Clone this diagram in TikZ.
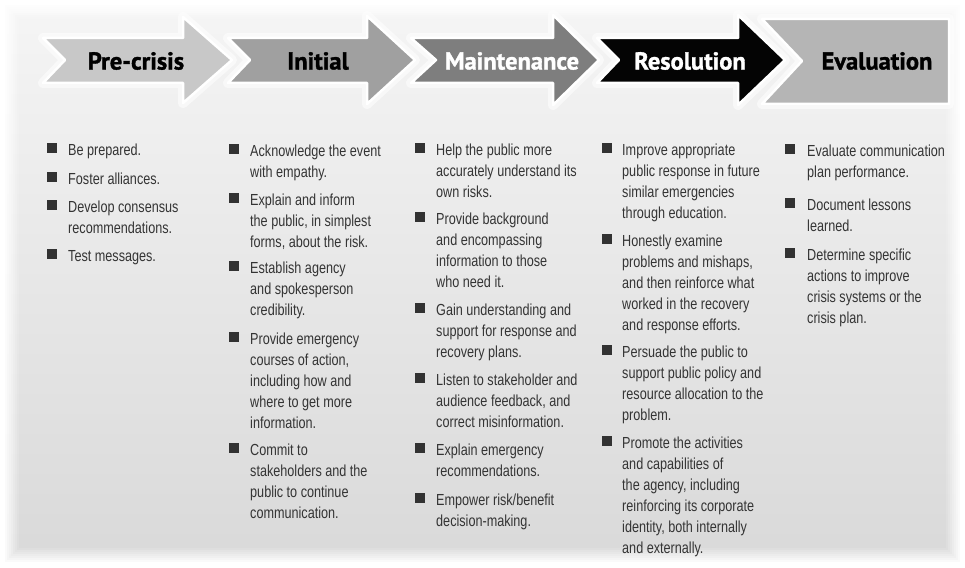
\documentclass[tikz,border=0pt]{standalone}
\usepackage{fontspec}
\setmainfont[FakeStretch=0.79]{Liberation Sans}
\newfontfamily\headfont{PT Sans}[BoldFeatures={FakeBold=1.3}]
\definecolor{txt}{RGB}{52,52,52}
\definecolor{bul}{RGB}{50,50,50}
\definecolor{bgtop}{RGB}{245,245,245}
\definecolor{bgbot}{RGB}{217,217,217}
\definecolor{cPre}{RGB}{200,200,200}
\definecolor{cIni}{RGB}{160,160,160}
\definecolor{cMai}{RGB}{126,126,126}
\definecolor{cRes}{RGB}{4,4,4}
\definecolor{cEva}{RGB}{181,181,181}
\tikzset{
  phase/.style={line join=round, draw=white, line width=2.5pt,
    preaction={draw=white, opacity=0.55, line width=10pt, line join=round}},
  head/.style={font=\headfont\bfseries\fontsize{24.5}{27}\selectfont, inner sep=0pt},
  itemtxt/.style={anchor=north west, inner sep=0pt, align=left, text=txt,
    font=\fontsize{16}{21}\selectfont},
  bulletbox/.style={rectangle, fill=bul, inner sep=0pt, minimum size=10pt, anchor=north west},
}
\newcommand{\crisisitem}[5]{%
  \node[bulletbox] (#1b) at (#2-0.5,#4-12.5) {};
  \node[itemtxt] (#1) at (#3,#4-14.7) {\strut #5};}
\begin{document}
\begin{tikzpicture}[x=1pt,y=-1pt]
\useasboundingbox (0,0) rectangle (965,567);
\fill[white] (0,0) rectangle (965,567);
\shade[top color=bgtop, bottom color=bgbot] (4,4) rectangle (961,563);
\foreach \i in {0,...,7}{
  \pgfmathsetmacro\op{1-\i/8}
  \draw[white, opacity=\op, line width=2.2pt] (4+\i*2,4+\i*2) rectangle (961-\i*2,563-\i*2);
}
% phase arrows
\path[phase, fill=cPre] (43,38) -- (183,38) -- (183,17) -- (232,60) -- (183,103) -- (183,83) -- (43,83) -- (65,60) -- cycle;
\path[phase, fill=cIni] (228,38) -- (367,38) -- (367,16) -- (415,60) -- (367,104) -- (367,83) -- (228,83) -- (250,60) -- cycle;
\path[phase, fill=cMai] (411,38) -- (553,38) -- (553,15) -- (599,60) -- (553,105) -- (553,83) -- (411,83) -- (436,60) -- cycle;
\path[phase, fill=cRes] (597,38) -- (738,38) -- (738,15) -- (785,60) -- (738,105) -- (738,83) -- (597,83) -- (619,60) -- cycle;
\path[phase, fill=cEva] (762,19) -- (949,19) -- (949,104) -- (762,104) -- (802,61) -- cycle;
\node[head, text=black] (pre) at (136,61) {Pre-crisis};
\node[head, text=black] (ini) at (318,61) {Initial};
\node[head, text=white] (mai) at (512,61) {Maintenance};
\node[head, text=white] (res) at (690,61) {Resolution};
\node[head, text=black] (eva) at (877,61) {Evaluation};
% column 1
\crisisitem{c1a}{47}{68}{155}{Be prepared.}
\crisisitem{c1b}{47}{68}{184}{Foster alliances.}
\crisisitem{c1c}{47}{68}{212}{Develop consensus\\recommendations.}
\crisisitem{c1d}{47}{68}{261}{Test messages.}
% column 2
\crisisitem{c2a}{229}{250}{156}{Acknowledge the event\\with empathy.}
\crisisitem{c2b}{229}{250}{205}{Explain and inform\\the public, in simplest\\forms, about the risk.}
\crisisitem{c2c}{229}{250}{273}{Establish agency\\and spokesperson\\credibility.}
\crisisitem{c2d}{229}{250}{344}{Provide emergency\\courses of action,\\including how and\\where to get more\\information.}
\crisisitem{c2e}{229}{250}{455}{Commit to\\stakeholders and the\\public to continue\\communication.}
% column 3
\crisisitem{c3a}{415}{436}{155}{Help the public more\\accurately understand its\\own risks.}
\crisisitem{c3b}{415}{436}{224}{Provide background\\and encompassing\\information to those\\who need it.}
\crisisitem{c3c}{415}{436}{315}{Gain understanding and\\support for response and\\recovery plans.}
\crisisitem{c3d}{415}{436}{385}{Listen to stakeholder and\\audience feedback, and\\correct misinformation.}
\crisisitem{c3e}{415}{436}{455}{Explain emergency\\recommendations.}
\crisisitem{c3f}{415}{436}{505}{Empower risk/benefit\\decision-making.}
% column 4
\crisisitem{c4a}{602}{622}{155}{Improve appropriate\\public response in future\\similar emergencies\\through education.}
\crisisitem{c4b}{602}{622}{246}{Honestly examine\\problems and mishaps,\\and then reinforce what\\worked in the recovery\\and response efforts.}
\crisisitem{c4c}{602}{622}{357}{Persuade the public to\\support public policy and\\resource allocation to the\\problem.}
\crisisitem{c4d}{602}{622}{448}{Promote the activities\\and capabilities of\\the agency, including\\reinforcing its corporate\\identity, both internally\\and externally.}
% column 5
\begin{scope}[every node/.append style={font=\fontsize{16}{20}\selectfont}]
\crisisitem{c5a}{785}{807}{156}{Evaluate communication\\plan performance.}
\crisisitem{c5b}{785}{807}{210}{Document lessons\\learned.}
\crisisitem{c5c}{785}{807}{260}{Determine specific\\actions to improve\\crisis systems or the\\crisis plan.}
\end{scope}
\end{tikzpicture}
\end{document}
